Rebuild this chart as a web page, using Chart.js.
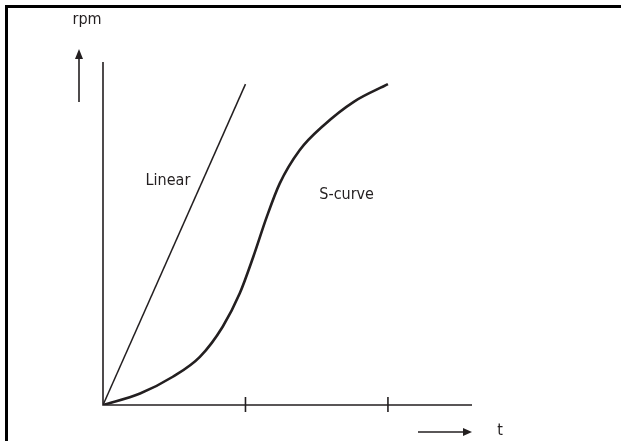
<!DOCTYPE html>
<html>
<head>
<meta charset="utf-8">
<script src="https://cdn.jsdelivr.net/npm/chart.js@4/dist/chart.umd.min.js"></script>
<style>
  html, body { margin: 0; padding: 0; background: #fff; }
  #wrap { position: relative; width: 621px; height: 441px; overflow: hidden; }
  #frame { position: absolute; left: 5px; top: 5px; right: -10px; bottom: -10px;
           border-top: 3px solid #000; border-left: 3px solid #000; }
  canvas { position: absolute; left: 0; top: 0; }
</style>
</head>
<body>
<div id="wrap">
  <div id="frame"></div>
  <canvas id="chart" width="621" height="441"></canvas>
</div>
<script>
// time (in tick units) and speed (fraction of final rpm)
const linearT = [0, 1]
const linearRpm = [0, 1]

const sCurveT = [0, 0.26, 0.49, 0.68, 0.84, 0.96, 1.055, 1.15, 1.24, 1.38, 1.55, 1.76, 2.0]
const sCurveRpm = [0, 0.036, 0.088, 0.15, 0.244, 0.348, 0.462, 0.587, 0.69, 0.794, 0.872, 0.945, 1.0]

const xTicks = [1, 2]
const xMax = 2.59
const yMax = 1.069

const curveLabels = [
  { text: 'Linear', x: 0.456, y: 0.70 },
  { text: 'S-curve', x: 1.71, y: 0.655 }
]

const ink = '#231f20'
const labelFont = '16px "Liberation Sans Narrow", "DejaVu Sans Condensed", sans-serif'

const toPoints = (xs, ys) => xs.map((x, i) => ({ x, y: ys[i] }))

const sketchPlugin = {
  id: 'sketch',
  afterDatasetsDraw(chart) {
    const { ctx, chartArea } = chart
    const xs = chart.scales.x
    const ys = chart.scales.y
    const x0 = xs.getPixelForValue(0)
    const y0 = ys.getPixelForValue(0)

    ctx.save()
    ctx.strokeStyle = ink
    ctx.fillStyle = ink
    ctx.lineWidth = 1.6

    // axes
    ctx.beginPath()
    ctx.moveTo(x0, chartArea.top)
    ctx.lineTo(x0, y0)
    ctx.lineTo(chartArea.right, y0)
    ctx.stroke()

    // tick marks crossing the time axis
    for (const t of xTicks) {
      const px = xs.getPixelForValue(t)
      ctx.beginPath()
      ctx.moveTo(px, y0 - 8)
      ctx.lineTo(px, y0 + 7)
      ctx.stroke()
    }

    // rpm arrow
    const ax = x0 - 24
    ctx.beginPath()
    ctx.moveTo(ax, chartArea.top + 40)
    ctx.lineTo(ax, chartArea.top - 6)
    ctx.stroke()
    ctx.beginPath()
    ctx.moveTo(ax, chartArea.top - 13)
    ctx.lineTo(ax - 4, chartArea.top - 3)
    ctx.lineTo(ax + 4, chartArea.top - 3)
    ctx.closePath()
    ctx.fill()

    // time arrow
    const ay = y0 + 27
    ctx.beginPath()
    ctx.moveTo(chartArea.right - 54, ay)
    ctx.lineTo(chartArea.right - 6, ay)
    ctx.stroke()
    ctx.beginPath()
    ctx.moveTo(chartArea.right, ay)
    ctx.lineTo(chartArea.right - 9, ay - 4)
    ctx.lineTo(chartArea.right - 9, ay + 4)
    ctx.closePath()
    ctx.fill()

    // texts
    ctx.font = labelFont
    ctx.textAlign = 'center'
    ctx.textBaseline = 'middle'
    ctx.fillText('rpm', ax + 8, chartArea.top - 42)
    ctx.fillText('t', chartArea.right + 28, ay - 1)
    for (const l of curveLabels) {
      ctx.fillText(l.text, xs.getPixelForValue(l.x), ys.getPixelForValue(l.y))
    }
    ctx.restore()
  }
}

new Chart(document.getElementById('chart'), {
  type: 'scatter',
  data: {
    datasets: [
      {
        label: 'Linear',
        data: toPoints(linearT, linearRpm),
        showLine: true,
        borderColor: ink,
        borderWidth: 1.5,
        pointRadius: 0
      },
      {
        label: 'S-curve',
        data: toPoints(sCurveT, sCurveRpm),
        showLine: true,
        borderColor: ink,
        borderWidth: 2.6,
        pointRadius: 0,
        cubicInterpolationMode: 'monotone'
      }
    ]
  },
  options: {
    responsive: false,
    animation: false,
    layout: { padding: { left: 103, top: 62, right: 149, bottom: 36 } },
    plugins: { legend: { display: false }, tooltip: { enabled: false } },
    scales: {
      x: { type: 'linear', min: 0, max: xMax, display: false },
      y: { type: 'linear', min: 0, max: yMax, display: false }
    }
  },
  plugins: [sketchPlugin]
})
</script>
</body>
</html>
